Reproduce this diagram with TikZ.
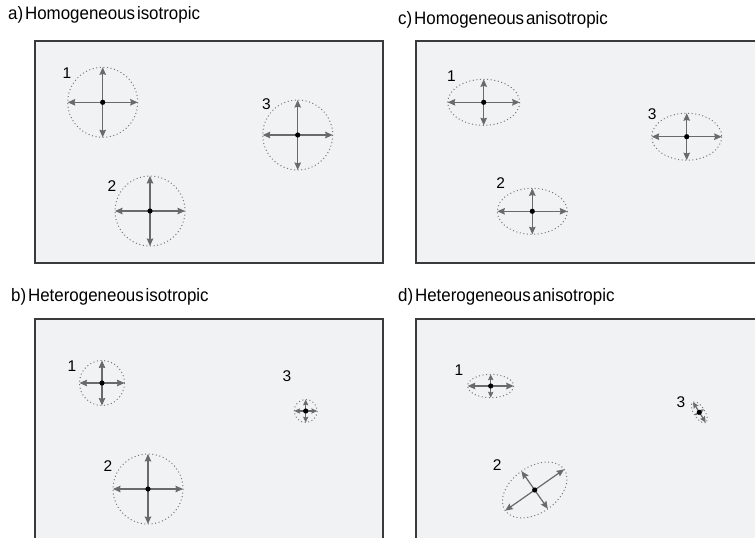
\documentclass[tikz,border=0pt]{standalone}
\usepackage{fontspec}
\setmainfont{Liberation Sans}
\newfontfamily\titlefont[FakeStretch=0.94,WordSpace=0.4]{Liberation Sans}
\usetikzlibrary{arrows.meta}
\definecolor{panelfill}{HTML}{F1F2F4}
\definecolor{panelline}{HTML}{3A3A3A}
\definecolor{arrgray}{HTML}{6A6A6A}
\definecolor{dotgray}{HTML}{777777}
\tikzset{
  panel/.style={draw=panelline,line width=1.4pt,fill=panelfill},
  paneltitle/.style={anchor=west,inner sep=0pt,font=\titlefont\fontsize{18}{21}\selectfont},
  numlabel/.style={inner sep=0pt,font=\fontsize{15.5}{18}\selectfont},
  dotline/.style={draw=dotgray,line width=1pt,dash pattern=on 1pt off 2.6pt},
  centerdot/.style={fill=black},
}
% #1 name, #2 x, #3 y, #4 rx, #5 ry, #6 angle
\newcommand{\tensorglyph}[6]{%
  \pgfmathsetmacro{\hla}{min(7.5,0.5*#4)}%
  \pgfmathsetmacro{\hwa}{min(6.5,0.45*#4)}%
  \pgfmathsetmacro{\hlb}{min(7.5,0.5*#5)}%
  \pgfmathsetmacro{\hwb}{min(6.5,0.45*#5)}%
  \begin{scope}[shift={(#2,#3)},rotate=#6]
    \coordinate (#1c) at (0,0);
    \coordinate (#1e) at (#4,0);
    \coordinate (#1w) at (-#4,0);
    \coordinate (#1n) at (0,-#5);
    \coordinate (#1s) at (0,#5);
    \draw[dotline] (0,0) ellipse [x radius=#4, y radius=#5];
    \draw[arrgray,line width=1.2pt,-{Stealth[length=\hla pt,width=\hwa pt,inset=0.8pt]}] (#1c) -- (#1e);
    \draw[arrgray,line width=1.2pt,-{Stealth[length=\hla pt,width=\hwa pt,inset=0.8pt]}] (#1c) -- (#1w);
    \draw[arrgray,line width=1.2pt,-{Stealth[length=\hlb pt,width=\hwb pt,inset=0.8pt]}] (#1c) -- (#1n);
    \draw[arrgray,line width=1.2pt,-{Stealth[length=\hlb pt,width=\hwb pt,inset=0.8pt]}] (#1c) -- (#1s);
    \fill[centerdot] (#1c) circle (2.6);
  \end{scope}}
\begin{document}
\begin{tikzpicture}[x=1pt,y=-1pt]
\useasboundingbox (0,0) rectangle (755,538);
\clip (0,0) rectangle (755,538);
% panels
\draw[panel] (35,41) rectangle (383,263);
\draw[panel] (416,41) rectangle (770,263);
\draw[panel] (35,319) rectangle (383,550);
\draw[panel] (416,319) rectangle (770,550);
% titles
\node[paneltitle] (ta) at (8,15) {a) Homogeneous isotropic};
\node[paneltitle] (tc) at (398,20) {c) Homogeneous anisotropic};
\node[paneltitle] (tb) at (11,297) {b) Heterogeneous isotropic};
\node[paneltitle] (td) at (398,297) {d) Heterogeneous anisotropic};
% a) homogeneous isotropic
\tensorglyph{aone}{102.7}{102.3}{35}{35}{0}
\tensorglyph{atwo}{150}{211}{35}{35}{0}
\tensorglyph{athree}{297.7}{135}{35}{35}{0}
\node[numlabel] (laone) at (67,73) {1};
\node[numlabel] (latwo) at (112,186) {2};
\node[numlabel] (lathree) at (266.5,104) {3};
% c) homogeneous anisotropic
\tensorglyph{cone}{483.7}{102.3}{36}{23}{0}
\tensorglyph{ctwo}{532.3}{211.3}{35}{23}{0}
\tensorglyph{cthree}{686.7}{136.7}{35}{23.5}{0}
\node[numlabel] (lcone) at (451.5,76) {1};
\node[numlabel] (lctwo) at (500.7,183) {2};
\node[numlabel] (lcthree) at (652.3,114) {3};
% b) heterogeneous isotropic
\tensorglyph{bone}{102}{383}{22.5}{22.5}{0}
\tensorglyph{btwo}{148}{489}{35}{35}{0}
\tensorglyph{bthree}{305.7}{411}{11.5}{11.5}{0}
\node[numlabel] (lbone) at (72,366) {1};
\node[numlabel] (lbtwo) at (108,466) {2};
\node[numlabel] (lbthree) at (287,376) {3};
% d) heterogeneous anisotropic
\tensorglyph{done}{490.7}{386}{23}{11.7}{0}
\tensorglyph{dtwo}{534.7}{490}{36}{23}{35}
\tensorglyph{dthree}{699.3}{412.3}{12}{5.5}{-58}
\node[numlabel] (ldone) at (459,370) {1};
\node[numlabel] (ldtwo) at (497.3,465) {2};
\node[numlabel] (ldthree) at (681,401.7) {3};
\end{tikzpicture}
\end{document}
